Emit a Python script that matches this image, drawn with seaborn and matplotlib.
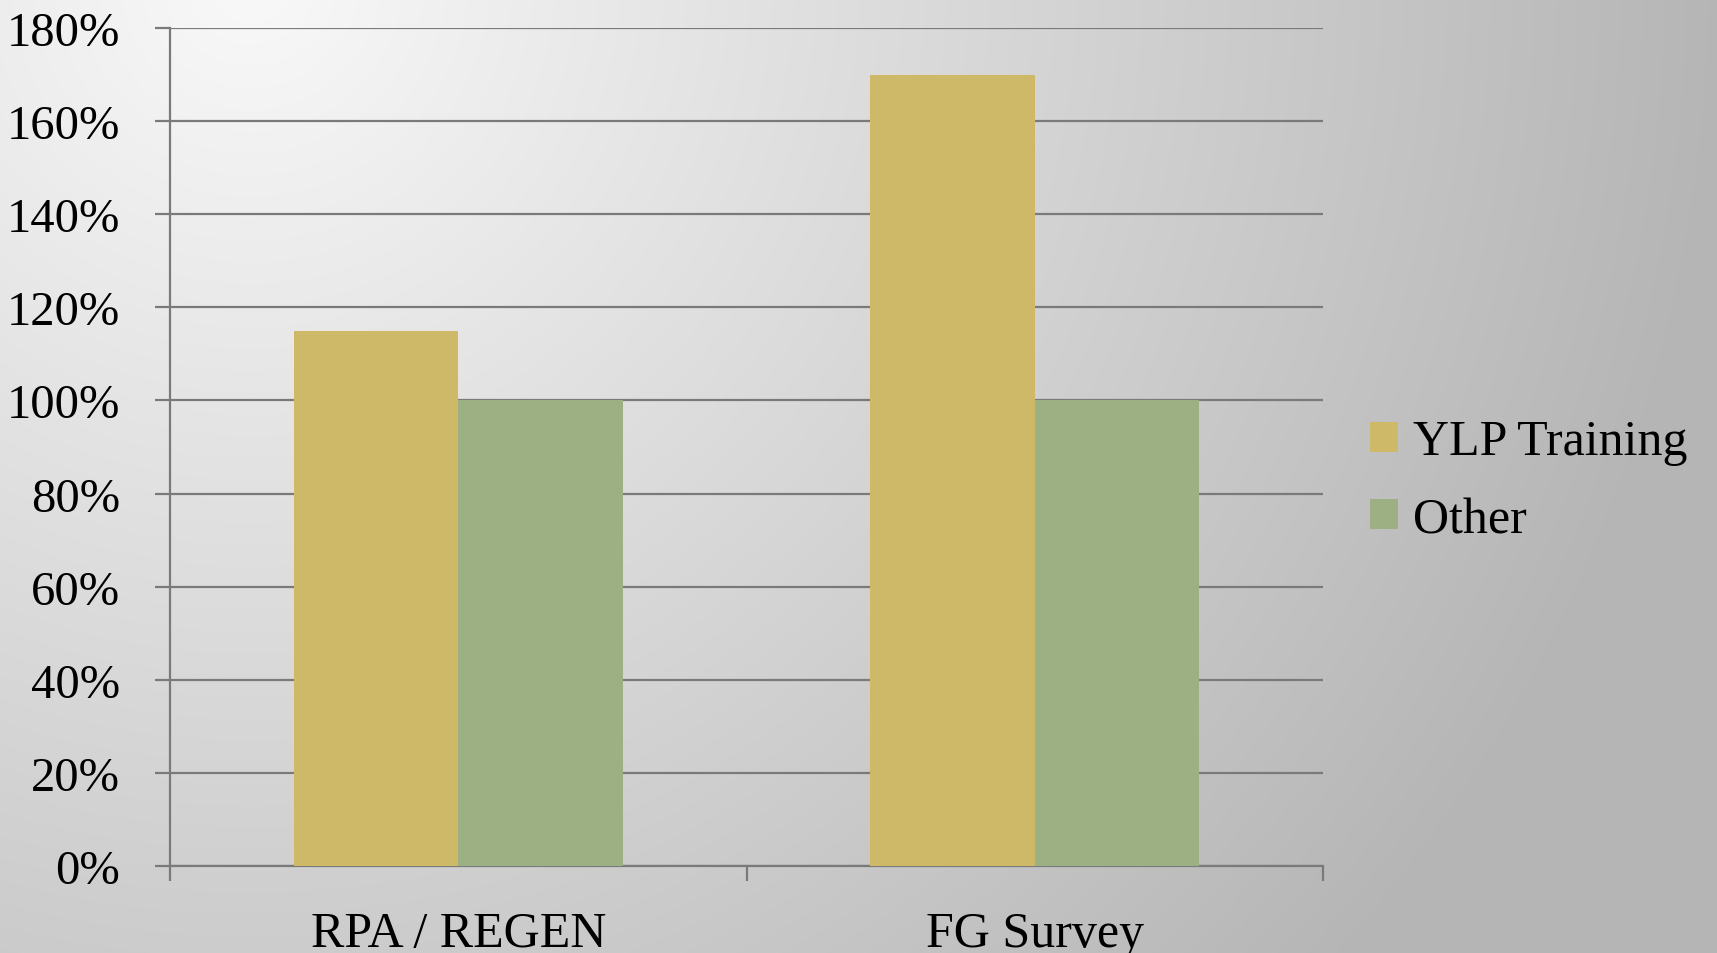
import numpy as np
import pandas as pd
import matplotlib
matplotlib.use('Agg')
import matplotlib.pyplot as plt
import seaborn as sns

# Data
categories = ['RPA / REGEN', 'FG Survey']
series = ['YLP Training', 'Other']
ylp_training = [115, 170]
other = [100, 100]
yticks = [0, 20, 40, 60, 80, 100, 120, 140, 160, 180]

df = pd.DataFrame({
    'category': categories * 2,
    'series': [series[0]] * 2 + [series[1]] * 2,
    'value': ylp_training + other,
})

sns.set_theme(style='white')
plt.rcParams['font.family'] = ['Liberation Serif', 'DejaVu Serif']
plt.rcParams['text.color'] = 'black'

W, H = 1717, 954
fig = plt.figure(figsize=(W / 100, H / 100), dpi=100)

# gray radial gradient background
bg = fig.add_axes([0, 0, 1, 1], zorder=-10)
yy, xx = np.mgrid[0:H, 0:W]
dist = np.hypot(xx - 250, yy + 20)
shade = np.clip(249 - 0.046 * dist, 181, 250) / 255.0
bg.imshow(np.dstack([shade] * 3), aspect='auto', extent=[0, 1, 0, 1])
bg.axis('off')

ax = fig.add_axes([170 / W, 1 - 867 / H, (1323 - 170) / W, (867 - 29) / H])
ax.set_facecolor('none')

pal = {'YLP Training': '#CDB967', 'Other': '#9CB083'}
sns.barplot(data=df, x='category', y='value', hue='series', palette=pal,
            width=0.57, gap=0, saturation=1, linewidth=0, ax=ax,
            legend=True, zorder=3)

grid_col = '#7a7a7a'
ax.set_ylim(0, 180)
ax.set_xlim(-0.5, 1.5)
ax.set_yticks(yticks)
ax.set_yticklabels([f'{v}%' for v in yticks])
for v in yticks:
    ax.axhline(v, color=grid_col, lw=1.6, zorder=1)

ax.set_xticks([0, 1])
ax.set_xticklabels(categories)
ax.set_xticks([-0.5, 0.5, 1.5], minor=True)
ax.tick_params(axis='x', which='major', length=0, pad=32, labelsize=36, colors='black')
ax.tick_params(axis='x', which='minor', length=11, width=1.6, color=grid_col, direction='out')
ax.tick_params(axis='y', length=11, width=1.6, color=grid_col, direction='out',
               pad=25, labelsize=35, labelcolor='black')
ax.tick_params(axis='both', bottom=True, left=True, which='both')
ax.set_xlabel('')
ax.set_ylabel('')

for side in ['top', 'right']:
    ax.spines[side].set_visible(False)
for side in ['left', 'bottom']:
    ax.spines[side].set_color(grid_col)
    ax.spines[side].set_linewidth(1.6)

handles, labels = ax.get_legend_handles_labels()
ax.get_legend().remove()
leg = fig.legend(handles, labels, loc='center left', bbox_to_anchor=(1370 / W, 1 - 482 / H),
                 frameon=False, fontsize=36, handlelength=0.55, handleheight=0.55,
                 handletextpad=0.3, labelspacing=0.62, borderaxespad=0, borderpad=0)
for t in leg.get_texts():
    t.set_color('black')

fig.savefig('out.png', dpi=100)
